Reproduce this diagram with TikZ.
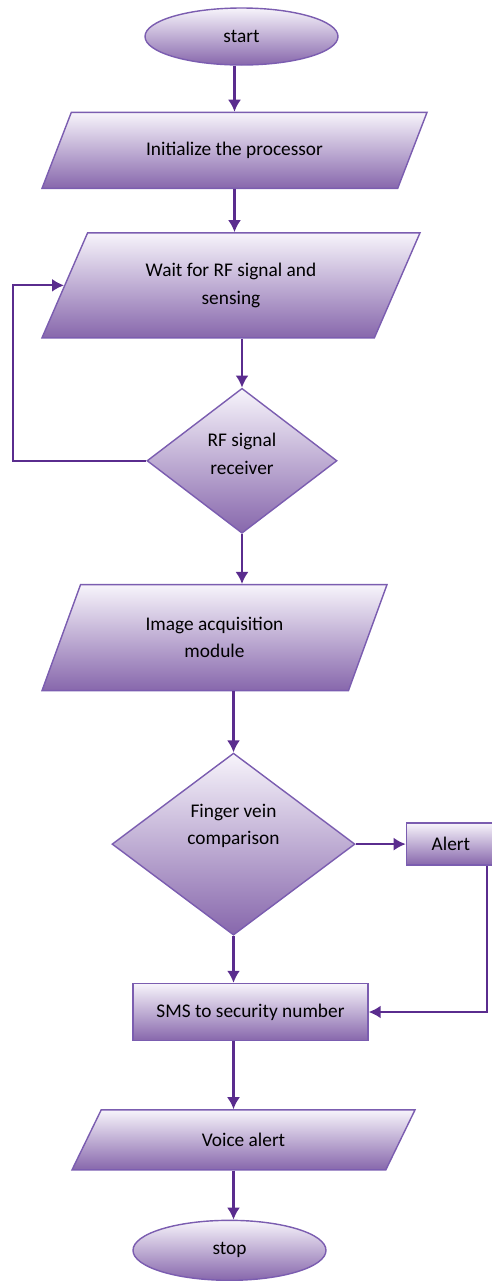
\documentclass[tikz,border=0pt]{standalone}
\usepackage{fontspec}
\setmainfont{Carlito}
\usepackage{xcolor}
\usepackage{tikz}
\usetikzlibrary{shapes.geometric}
\usetikzlibrary{arrows.meta}
\usetikzlibrary{positioning}
\definecolor{flowTop}{HTML}{F7F4FB}
\definecolor{flowBottom}{HTML}{8767AC}
\definecolor{flowBorder}{HTML}{7B5DB0}
\definecolor{flowArrow}{HTML}{5A2C8E}
\tikzset{>={Latex[length=2.4mm, width=2.6mm]}}
\tikzset{flow-line/.style={->, line width=1.2pt, color=flowArrow}}
\tikzset{flow-text/.style={font=\fontsize{11}{15.5}\selectfont, align=center, text=black}}
\tikzset{flow-node/.style={flow-text, draw=flowBorder, line width=0.8pt, top color=flowTop, bottom color=flowBottom}}
\tikzset{terminal-node/.style={flow-node, ellipse, minimum width=3.86cm, minimum height=1.14cm, inner sep=0}}
\tikzset{io-node/.style={flow-node, trapezium, trapezium stretches body, inner sep=2pt}}
\tikzset{decision-node/.style={flow-node, diamond, inner sep=0}}
\tikzset{process-node/.style={flow-node, rectangle, inner sep=2pt}}

\begin{document}
\begin{tikzpicture}
    \useasboundingbox (0,0) rectangle (9.84,-25.62);

    \node[terminal-node] (start) at (4.83,-0.73) {start};
    \node[io-node, trapezium left angle=38.8, trapezium right angle=141.2,
          minimum width=7.7cm, minimum height=1.52cm,
          below=0.92cm of start, xshift=-0.14cm] (init) {Initialize the processor};
    \node[io-node, trapezium left angle=48.2, trapezium right angle=131.8,
          minimum width=7.56cm, minimum height=2.1cm,
          below=0.86cm of init, xshift=-0.07cm] (wait) {Wait for RF signal and\\sensing};
    \node[decision-node, minimum width=3.8cm, minimum height=2.9cm,
          below=0.98cm of wait, xshift=0.22cm] (rf) {};
    \node[flow-text] (rf-text) at ([yshift=0.14cm]rf.center) {RF signal\\receiver};
    \node[io-node, trapezium left angle=51.1, trapezium right angle=128.9,
          minimum width=6.9cm, minimum height=2.12cm,
          below=1.0cm of rf, xshift=-0.55cm] (image) {Image acquisition\\module};
    \node[decision-node, minimum width=4.86cm, minimum height=3.64cm,
          below=1.22cm of image, xshift=0.38cm] (finger) {};
    \node[flow-text] (finger-text) at ([yshift=0.36cm]finger.center) {Finger vein\\comparison};
    \node[process-node, minimum width=1.78cm, minimum height=0.84cm,
          right=1.0cm of finger] (alert) {Alert};
    \node[process-node, minimum width=4.7cm, minimum height=1.14cm,
          below=0.94cm of finger, xshift=0.34cm] (sms) {SMS to security number};
    \node[io-node, trapezium left angle=35.2, trapezium right angle=144.8,
          minimum width=6.86cm, minimum height=1.2cm,
          below=1.36cm of sms, xshift=-0.14cm] (voice) {Voice alert};
    \node[terminal-node, minimum height=1.2cm,
          below=0.98cm of voice, xshift=-0.28cm] (stop) {stop};

    % main flow
    \draw[flow-line] (init.north |- start.south) -- (init.north);
    \draw[flow-line] (init.south) -- (init.south |- wait.north);
    \draw[flow-line] (rf.north |- wait.south) -- (rf.north);
    \draw[flow-line] (rf.south) -- (rf.south |- image.north);
    \draw[flow-line] (finger.north |- image.south) -- (finger.north);
    \draw[flow-line] (finger.south) -- (finger.south |- sms.north);
    \draw[flow-line] (finger.south |- sms.south) -- (finger.south |- voice.north);
    \draw[flow-line] (finger.south |- voice.south) -- (finger.south |- stop.north);

    % loop back and alert branch
    \draw[flow-line] (rf.west) -- ++(-2.66,0) |- (wait.west);
    \draw[flow-line] (finger.east) -- (alert.west);
    \draw[flow-line] ([xshift=-0.18cm]alert.south east) |- (sms.east);
\end{tikzpicture}
\end{document}
